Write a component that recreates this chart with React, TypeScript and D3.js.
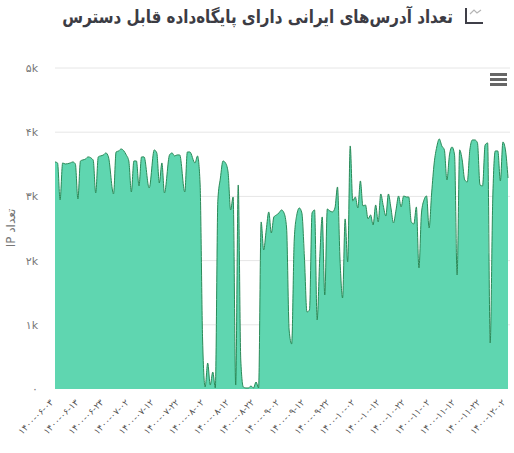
import React from "react";
import * as d3 from "d3";

const title = "تعداد آدرس‌های ایرانی دارای پایگاه‌داده قابل دسترس";
const yTitle = "تعداد IP";
const dateLabels = ["۱۴۰۰-۰۶-۰۳","۱۴۰۰-۰۶-۱۳","۱۴۰۰-۰۶-۲۳","۱۴۰۰-۰۷-۰۲","۱۴۰۰-۰۷-۱۲","۱۴۰۰-۰۷-۲۲","۱۴۰۰-۰۸-۰۲","۱۴۰۰-۰۸-۱۲","۱۴۰۰-۰۸-۲۲","۱۴۰۰-۰۹-۰۲","۱۴۰۰-۰۹-۱۲","۱۴۰۰-۰۹-۲۲","۱۴۰۰-۱۰-۰۲","۱۴۰۰-۱۰-۱۲","۱۴۰۰-۱۰-۲۲","۱۴۰۰-۱۱-۰۲","۱۴۰۰-۱۱-۱۲","۱۴۰۰-۱۱-۲۲","۱۴۰۰-۱۲-۰۲"];
const yTicks = [0, 1000, 2000, 3000, 4000, 5000];
const yTickLabels = ["۰", "۱k", "۲k", "۳k", "۴k", "۵k"];

const earlyDays = [0,1,2,3,4,6,7,8,9,10,12,13,15,16,17,19,20,21,23,24,25,26,28,29,30,31,32,33,34,35,37,39,40,41,42,43,45,46,47,48,49,51,52,53,55,56,57];
const earlyIps = [3537,3521,2945,3521,3505,3521,3537,3505,2960,3552,3583,3615,3568,3054,3615,3646,3677,3615,3038,3692,3708,3739,3646,3552,3069,3552,3552,3163,3615,3615,3131,3724,3677,3209,3521,3054,3646,3677,3630,3646,3646,3069,3692,3692,3521,3630,3209];
// Daily readings from day 58 to day 178
const lateIps = [763,31,405,62,265,16,2945,3287,3552,3521,3381,2789,2991,62,3178,452,31,16,16,47,16,109,16,2602,2166,2477,2758,2430,2680,2711,2742,2789,2742,2508,919,701,2321,2711,2820,2742,2057,1200,1231,2742,2789,1075,2010,2680,1465,2804,2773,2758,2820,3147,2010,1418,2649,1979,3786,2929,2991,2820,3241,2851,2867,2649,2711,2555,2867,2602,3038,2851,2695,3038,2820,2586,2789,3007,2836,3007,2991,2991,2602,2571,2836,1885,2742,2945,3007,2508,3054,3521,3770,3895,3786,3724,3256,3646,3770,3646,1776,3724,3568,3256,3225,3724,3879,3879,3833,3178,3163,3801,3833,717,2945,3708,3708,3241,3848,3724,3287];
const firstLateDay = 58;
const lastDay = 178;

const points: [number, number][] = [
  ...earlyDays.map((d, i) => [d, earlyIps[i]] as [number, number]),
  ...lateIps.map((v, i) => [firstLateDay + i, v] as [number, number]),
];

const W = 514, H = 453;
const left = 55, right = 508, top = 68, bottom = 389;

const x = d3.scaleLinear().domain([0, lastDay]).range([left, right]);
const y = d3.scaleLinear().domain([0, 5000]).range([bottom, top]);
const tickX = d3.scalePoint<string>().domain(dateLabels).range([left - 1, right - 2]);

const area = d3.area<[number, number]>().x(d => x(d[0])).y0(bottom).y1(d => y(d[1])).curve(d3.curveMonotoneX);
const line = d3.line<[number, number]>().x(d => x(d[0])).y(d => y(d[1])).curve(d3.curveMonotoneX);

const font = "'DejaVu Sans', sans-serif";

export default function App() {
  return (
    <svg width={W} height={H} viewBox={`0 0 ${W} ${H}`} style={{ position: "absolute", left: 0, top: 0, background: "#fff" }}>
      <text transform="translate(453,23) scale(0.84,1)" textAnchor="start" direction="rtl" fontFamily={font} fontWeight="bold" fontSize={18} fill="#3c3c44">{title}</text>
      <g fill="none">
        <path d="M466 8 V23 H483" stroke="#3f3f48" strokeWidth={2} />
        <path d="M470 14 L474 10 L477 13 L481 10" stroke="#b5b5b5" strokeWidth={1.2} />
      </g>
      {yTicks.map((t, i) => (
        <g key={t}>
          {t > 0 && <line x1={left} x2={510} y1={y(t)} y2={y(t)} stroke="#e6e6e6" />}
          <text x={38} y={y(t) + 4} textAnchor="end" fontFamily={font} fontSize={11} fill="#777">{yTickLabels[i]}</text>
        </g>
      ))}
      <path d={area(points) ?? ""} fill="#5fd6b0" />
      <path d={line(points) ?? ""} fill="none" stroke="#2a8a58" strokeWidth={1} />
      <text transform="translate(15,228) rotate(-90)" textAnchor="middle" direction="rtl" fontFamily={font} fontSize={12} fill="#777">{yTitle}</text>
      {dateLabels.map(l => (
        <text key={l} transform={`translate(${tickX(l)},403) rotate(-45)`} textAnchor="end" direction="ltr" fontFamily={font} fontSize={9} fill="#555">{l}</text>
      ))}
      <g stroke="#666" strokeWidth={3}>
        <line x1={490} x2={507} y1={74.5} y2={74.5} />
        <line x1={490} x2={507} y1={79.5} y2={79.5} />
        <line x1={490} x2={507} y1={84.5} y2={84.5} />
      </g>
    </svg>
  );
}
